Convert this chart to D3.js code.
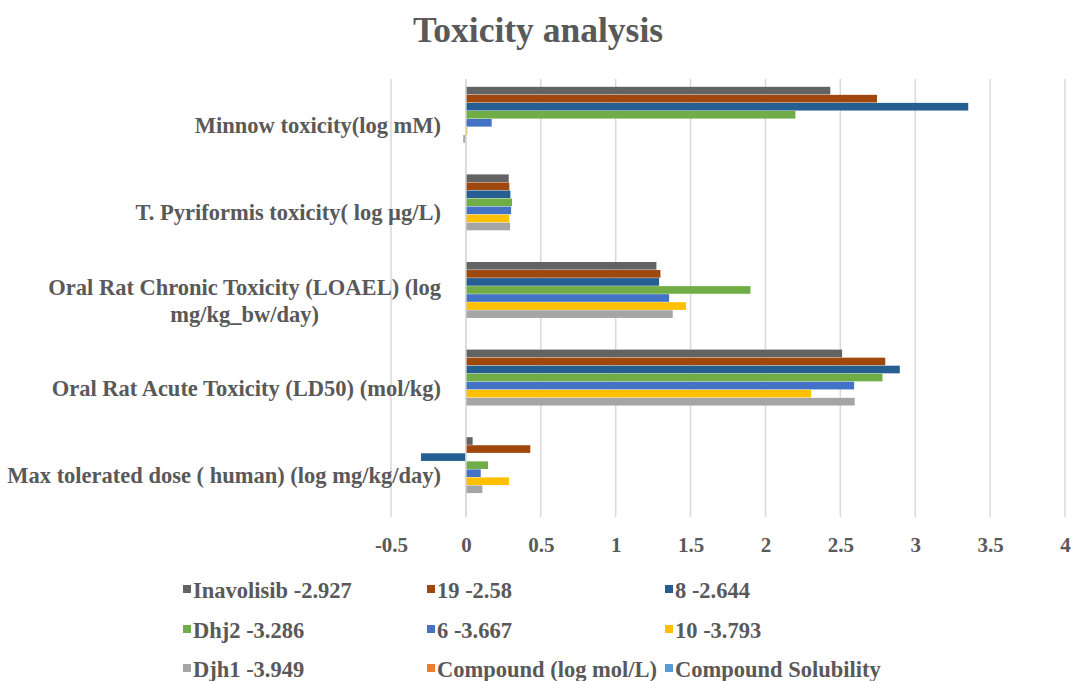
<!DOCTYPE html>
<html>
<head>
<meta charset="utf-8">
<script src="https://cdn.jsdelivr.net/npm/d3@7"></script>
<style>
  html, body { margin: 0; padding: 0; background: #fff; }
  svg { display: block; font-family: "Liberation Serif", "Times New Roman", serif; font-weight: bold; }
</style>
</head>
<body>
<svg id="chart" width="1072" height="681"></svg>
<script>
// Toxicity endpoints, top to bottom
const categories = [
  "Minnow toxicity(log mM)",
  "T. Pyriformis toxicity( log µg/L)",
  "Oral Rat Chronic Toxicity (LOAEL) (log mg/kg_bw/day)",
  "Oral Rat Acute Toxicity (LD50) (mol/kg)",
  "Max tolerated dose ( human) (log mg/kg/day)"
];

// Compounds (legend order, also bar order inside each group from top)
const seriesNames = [
  "Inavolisib -2.927", "19 -2.58", "8 -2.644",
  "Dhj2 -3.286", "6 -3.667", "10 -3.793",
  "Djh1 -3.949", "Compound (log mol/L)", "Compound Solubility"
];
const seriesColors = [
  "#636363", "#9E480E", "#255E91",
  "#70AD47", "#4472C4", "#FFC000",
  "#A5A5A5", "#ED7D31", "#5B9BD5"
];

// Values per compound, in category order
const inavolisib = [2.433, 0.286, 1.272, 2.512, 0.045];
const c19        = [2.745, 0.290, 1.299, 2.800, 0.430];
const c8         = [3.354, 0.297, 1.290, 2.897, -0.300];
const dhj2       = [2.200, 0.308, 1.900, 2.781, 0.148];
const c6         = [0.172, 0.302, 1.357, 2.592, 0.099];
const c10        = [0.010, 0.290, 1.470, 2.305, 0.288];
const djh1       = [-0.018, 0.295, 1.381, 2.596, 0.110];
const compoundLogMol     = [null, null, null, null, null];
const compoundSolubility = [null, null, null, null, null];

const seriesValues = [inavolisib, c19, c8, dhj2, c6, c10, djh1, compoundLogMol, compoundSolubility];

const xTicks = [-0.5, 0, 0.5, 1, 1.5, 2, 2.5, 3, 3.5, 4];
const titleText = "Toxicity analysis";

const textColor = "#595959";
const svg = d3.select("#chart");

const plot = { left: 391, right: 1065, top: 79, bottom: 517 };

const x = d3.scaleLinear().domain([-0.5, 4]).range([plot.left, plot.right]);
const y = d3.scaleBand().domain(categories).range([plot.top, plot.bottom]).padding(0);
const groupGap = 15.2;
const ySeries = d3.scaleBand()
  .domain(seriesNames)
  .range([groupGap / 2, y.bandwidth() - groupGap / 2])
  .padding(0);

// Title
svg.append("text")
  .attr("x", 538).attr("y", 42)
  .attr("text-anchor", "middle")
  .attr("font-size", 35.5)
  .attr("fill", textColor)
  .text(titleText);

// Vertical gridlines
svg.append("g")
  .selectAll("line")
  .data(xTicks)
  .join("line")
  .attr("x1", d => x(d)).attr("x2", d => x(d))
  .attr("y1", plot.top).attr("y2", plot.bottom)
  .attr("stroke", "#d9d9d9")
  .attr("stroke-width", 1.5);

// Bars
const rows = [];
seriesNames.forEach((s, si) => {
  categories.forEach((c, ci) => {
    const v = seriesValues[si][ci];
    if (v !== null) rows.push({ s, c, v, color: seriesColors[si] });
  });
});
svg.append("g")
  .selectAll("rect")
  .data(rows)
  .join("rect")
  .attr("x", d => Math.min(x(0), x(d.v)))
  .attr("width", d => Math.abs(x(d.v) - x(0)))
  .attr("y", d => y(d.c) + ySeries(d.s) + 0.2)
  .attr("height", ySeries.bandwidth() - 0.4)
  .attr("fill", d => d.color);

// Zero line above bars
svg.append("line")
  .attr("x1", x(0)).attr("x2", x(0))
  .attr("y1", plot.top).attr("y2", plot.bottom)
  .attr("stroke", "#d9d9d9").attr("stroke-width", 1.5);

// X axis tick labels
const xAxis = d3.axisBottom(x).tickValues(xTicks).tickFormat(d => String(d)).tickSize(0).tickPadding(0);
const gx = svg.append("g")
  .attr("transform", `translate(0, ${plot.bottom + 20})`)
  .call(xAxis);
gx.select(".domain").remove();
gx.selectAll("text")
  .attr("font-size", 21)
  .attr("font-family", "'Liberation Serif', 'Times New Roman', serif")
  .attr("font-weight", "bold")
  .attr("fill", textColor)
  .attr("dy", "0.71em");

// Category labels (wrapped, block right-aligned to the plot)
const labelRight = 441;
const labelSize = 22.5;
const maxLabelWidth = 450;
const lineGap = 27;
const labelsG = svg.append("g");
categories.forEach(c => {
  const words = c.split(" ");
  const probe = labelsG.append("text").attr("font-size", labelSize);
  const lines = [];
  let cur = "";
  words.forEach(w => {
    const trial = cur ? cur + " " + w : w;
    probe.text(trial);
    if (probe.node().getComputedTextLength() > maxLabelWidth && cur) {
      lines.push(cur);
      cur = w;
    } else {
      cur = trial;
    }
  });
  lines.push(cur);
  let widest = 0;
  lines.forEach(l => { probe.text(l); widest = Math.max(widest, probe.node().getComputedTextLength()); });
  probe.remove();
  const cx = labelRight - widest / 2;
  const cy = y(c) + y.bandwidth() / 2 + 10;
  const t = labelsG.append("text")
    .attr("font-size", labelSize)
    .attr("fill", textColor)
    .attr("text-anchor", "middle");
  lines.forEach((l, i) => {
    t.append("tspan")
      .attr("x", cx)
      .attr("y", cy + (i - (lines.length - 1) / 2) * lineGap)
      .text(l);
  });
});

// Legend: three columns
const legendCols = [183, 427, 665];
const legendRows = [598, 638, 677];
const legend = svg.append("g");
seriesNames.forEach((s, i) => {
  const col = i % 3, row = Math.floor(i / 3);
  const g = legend.append("g")
    .attr("transform", `translate(${legendCols[col]}, ${legendRows[row]})`);
  g.append("rect")
    .attr("x", 0).attr("y", -13)
    .attr("width", 8).attr("height", 8)
    .attr("fill", seriesColors[i]);
  g.append("text")
    .attr("x", 10).attr("y", 0)
    .attr("font-size", 22.5)
    .attr("fill", textColor)
    .text(s);
});
</script>
</body>
</html>
